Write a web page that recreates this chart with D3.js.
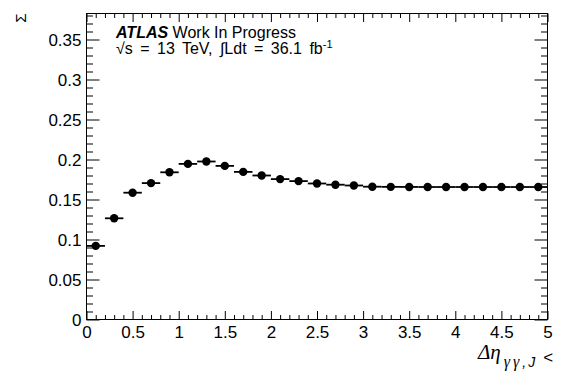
<!DOCTYPE html>
<html>
<head>
<meta charset="utf-8">
<script src="https://cdn.jsdelivr.net/npm/d3@7/dist/d3.min.js"></script>
<style>
  html, body { margin: 0; padding: 0; background: #fff; }
  svg { display: block; font-family: "Liberation Sans", Arial, Helvetica, sans-serif; }
</style>
</head>
<body>
<svg id="chart" width="568" height="378"></svg>
<script>
// Bin centres of the Δη distribution (bin width 0.2)
const binCenters = [0.1, 0.3, 0.5, 0.7, 0.9, 1.1, 1.3, 1.5, 1.7, 1.9,
                    2.1, 2.3, 2.5, 2.7, 2.9, 3.1, 3.3, 3.5, 3.7, 3.9,
                    4.1, 4.3, 4.5, 4.7, 4.9];
const binHalfWidth = 0.1;
// Cumulative Σ for each bin
const sigmaValues = [0.092, 0.1265, 0.1585, 0.1705, 0.184, 0.1945, 0.1975, 0.192, 0.1845, 0.18,
                     0.1755, 0.173, 0.170, 0.1685, 0.1675, 0.166, 0.1658, 0.1657, 0.1656, 0.1656,
                     0.1656, 0.1656, 0.1656, 0.1656, 0.1656];

const xMajorTicks = [0, 0.5, 1, 1.5, 2, 2.5, 3, 3.5, 4, 4.5, 5];
const xMinorTicks = [0.1,0.2,0.3,0.4,0.6,0.7,0.8,0.9,1.1,1.2,1.3,1.4,1.6,1.7,1.8,1.9,
                     2.1,2.2,2.3,2.4,2.6,2.7,2.8,2.9,3.1,3.2,3.3,3.4,3.6,3.7,3.8,3.9,
                     4.1,4.2,4.3,4.4,4.6,4.7,4.8,4.9];
const yMajorTicks = [0, 0.05, 0.1, 0.15, 0.2, 0.25, 0.3, 0.35];
const yMinorTicks = [0.01,0.02,0.03,0.04,0.06,0.07,0.08,0.09,0.11,0.12,0.13,0.14,
                     0.16,0.17,0.18,0.19,0.21,0.22,0.23,0.24,0.26,0.27,0.28,0.29,
                     0.31,0.32,0.33,0.34,0.36,0.37,0.38];

const svg = d3.select("#chart");
const frame = { left: 86.5, right: 547.5, top: 13.5, bottom: 319.5 };

const x = d3.scaleLinear().domain([0, 5]).range([frame.left, frame.right]);
const y = d3.scaleLinear().domain([0, 0.3825]).range([frame.bottom, frame.top]);

const fmt = d3.format("~g");
const tickFont = "17px";
const serif = "'Liberation Serif', 'Times New Roman', serif";

// Frame
svg.append("rect")
  .attr("x", frame.left).attr("y", frame.top)
  .attr("width", frame.right - frame.left).attr("height", frame.bottom - frame.top)
  .attr("fill", "none").attr("stroke", "#000").attr("stroke-width", 1);

function styleAxis(g) {
  g.select(".domain").remove();
  g.selectAll(".tick line").attr("stroke", "#000").attr("stroke-width", 1);
  g.selectAll(".tick text").attr("fill", "#000").style("font-size", tickFont)
    .style("font-family", "'Liberation Sans', Arial, sans-serif");
}

// Left axis: major ticks with labels, minor ticks without
svg.append("g").attr("transform", `translate(${frame.left},0)`)
  .call(d3.axisLeft(y).tickValues(yMajorTicks).tickFormat(fmt).tickSizeInner(-13).tickSizeOuter(0).tickPadding(5))
  .call(styleAxis)
  .call(g => g.selectAll(".tick text").attr("dy", "0.36em"));
svg.append("g").attr("transform", `translate(${frame.left},0)`)
  .call(d3.axisLeft(y).tickValues(yMinorTicks).tickFormat("").tickSizeInner(-6.5).tickSizeOuter(0))
  .call(styleAxis);

// Right axis (mirrored ticks)
svg.append("g").attr("transform", `translate(${frame.right},0)`)
  .call(d3.axisRight(y).tickValues(yMajorTicks).tickFormat("").tickSizeInner(-13).tickSizeOuter(0))
  .call(styleAxis);
svg.append("g").attr("transform", `translate(${frame.right},0)`)
  .call(d3.axisRight(y).tickValues(yMinorTicks).tickFormat("").tickSizeInner(-6.5).tickSizeOuter(0))
  .call(styleAxis);

// Bottom axis
svg.append("g").attr("transform", `translate(0,${frame.bottom})`)
  .call(d3.axisBottom(x).tickValues(xMajorTicks).tickFormat(fmt).tickSizeInner(-8.5).tickSizeOuter(0).tickPadding(6))
  .call(styleAxis);
svg.append("g").attr("transform", `translate(0,${frame.bottom})`)
  .call(d3.axisBottom(x).tickValues(xMinorTicks).tickFormat("").tickSizeInner(-4.5).tickSizeOuter(0))
  .call(styleAxis);

// Top axis (mirrored ticks)
svg.append("g").attr("transform", `translate(0,${frame.top})`)
  .call(d3.axisTop(x).tickValues(xMajorTicks).tickFormat("").tickSizeInner(-8.5).tickSizeOuter(0))
  .call(styleAxis);
svg.append("g").attr("transform", `translate(0,${frame.top})`)
  .call(d3.axisTop(x).tickValues(xMinorTicks).tickFormat("").tickSizeInner(-4.5).tickSizeOuter(0))
  .call(styleAxis);

// Data: horizontal bin-width bars and markers
const points = binCenters.map((c, i) => ({ c, v: sigmaValues[i] }));
const marks = svg.append("g");
marks.selectAll("line.err").data(points).join("line")
  .attr("class", "err")
  .attr("x1", d => x(d.c - binHalfWidth)).attr("x2", d => x(d.c + binHalfWidth))
  .attr("y1", d => y(d.v)).attr("y2", d => y(d.v))
  .attr("stroke", "#000").attr("stroke-width", 1.8);
marks.selectAll("circle").data(points).join("circle")
  .attr("cx", d => x(d.c)).attr("cy", d => y(d.v)).attr("r", 4.2)
  .attr("fill", "#000");

// Y-axis title
svg.append("text")
  .attr("transform", "translate(26,18) rotate(-90)")
  .attr("text-anchor", "middle")
  .style("font-size", "15px")
  .text("Σ");

// X-axis title: Δη_{γγ,J} <
const xt = svg.append("text").attr("y", 359);
xt.append("tspan").attr("x", 478)
  .style("font-family", serif).style("font-style", "italic").style("font-size", "21px")
  .text("Δη");
xt.append("tspan").attr("dx", 3).attr("y", 367)
  .style("font-family", serif).style("font-style", "italic").style("font-size", "16px")
  .style("letter-spacing", "3px")
  .text("γγ");
xt.append("tspan").attr("y", 367)
  .style("font-style", "italic").style("font-size", "14px")
  .style("letter-spacing", "2px")
  .text(",J");
xt.append("tspan").attr("dx", 6).attr("y", 363)
  .style("font-size", "17px")
  .text("<");

// Experiment label
const lab = svg.append("text").attr("x", 116).attr("y", 38).style("font-size", "16px");
lab.append("tspan").style("font-weight", "bold").style("font-style", "italic").text("ATLAS");
lab.append("tspan").text(" Work In Progress");

const lumi = svg.append("text").attr("x", 116).attr("y", 53.5).style("font-size", "16px");
lumi.append("tspan")
  .style("word-spacing", "3px")
  .text("√s = 13 TeV, ∫Ldt = 36.1 fb");
lumi.append("tspan").attr("dy", -6).style("font-size", "11px").text("-1");
</script>
</body>
</html>
